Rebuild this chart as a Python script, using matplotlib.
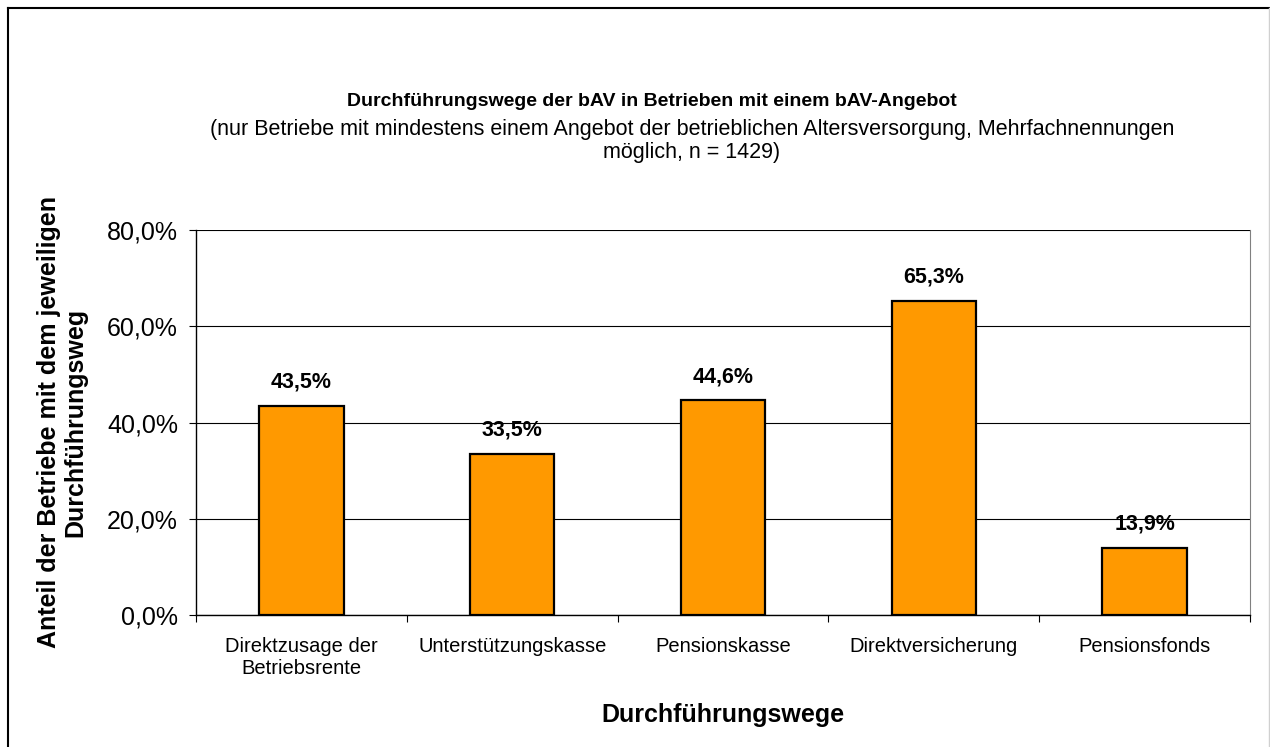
import matplotlib.pyplot as plt
from matplotlib.lines import Line2D

plt.rcParams['font.family'] = ['Liberation Sans', 'DejaVu Sans']

categories = ['Direktzusage der\nBetriebsrente', 'Unterstützungskasse', 'Pensionskasse',
              'Direktversicherung', 'Pensionsfonds']
values = [43.5, 33.5, 44.6, 65.3, 13.9]
yticks = [0, 20, 40, 60, 80]


def fmt(v):
    return ('%.1f%%' % v).replace('.', ',')


fig = plt.figure(figsize=(12.7, 7.47), dpi=100)
ax = fig.add_axes([196 / 1270, 1 - 615 / 747, 1054 / 1270, 385 / 747])

x = range(len(categories))
ax.bar(x, values, width=0.4, color='#FF9900', edgecolor='black', linewidth=1.6, zorder=3)
for i, v in zip(x, values):
    ax.annotate(fmt(v), (i, v), xytext=(0, 17), textcoords='offset points',
                ha='center', va='center', fontsize=15.5, fontweight='bold', zorder=4)

ax.set_xlim(-0.5, len(categories) - 0.5)
ax.set_ylim(0, 80)
ax.set_yticks(yticks)
ax.set_yticklabels([fmt(t) for t in yticks], fontsize=18)
ax.yaxis.grid(True, color='black', linewidth=0.8, zorder=0)
ax.set_xticks([i + 0.5 for i in range(-1, len(categories))])
ax.set_xticklabels([])
ax.set_xticks(list(x), minor=True)
ax.set_xticklabels(categories, minor=True, fontsize=14.5, linespacing=1.2)
ax.tick_params(axis='x', which='minor', length=0, pad=16)
ax.tick_params(axis='x', which='major', length=5, direction='out')
ax.tick_params(axis='y', length=5, direction='out', pad=8)

ax.spines['top'].set_visible(False)
ax.spines['right'].set_color('#808080')
ax.spines['left'].set_linewidth(1.0)
ax.spines['bottom'].set_linewidth(1.0)

ax.set_xlabel('Durchführungswege', fontsize=18, fontweight='bold', labelpad=18)
ax.set_ylabel('Anteil der Betriebe mit dem jeweiligen\nDurchführungsweg', fontsize=18,
              fontweight='bold', labelpad=14, linespacing=1.15)

fig.text(652 / 1270, 1 - 101 / 747, 'Durchführungswege der bAV in Betrieben mit einem bAV-Angebot',
         ha='center', va='center', fontsize=14, fontweight='bold')
fig.text(692 / 1270, 1 - 141 / 747,
         '(nur Betriebe mit mindestens einem Angebot der betrieblichen Altersversorgung, Mehrfachnennungen\nmöglich, n = 1429)',
         ha='center', va='center', fontsize=15.5, linespacing=1.08)

fig.lines.append(Line2D([7.5 / 1270, 7.5 / 1270], [0, 1 - 7.5 / 747], transform=fig.transFigure,
                        color='black', linewidth=1.5))
fig.lines.append(Line2D([7.5 / 1270, 1], [1 - 7.5 / 747, 1 - 7.5 / 747], transform=fig.transFigure,
                        color='black', linewidth=1.5))
fig.lines.append(Line2D([1269 / 1270, 1269 / 1270], [0, 1 - 7.5 / 747], transform=fig.transFigure,
                        color='#d0d0d0', linewidth=1.0))

fig.savefig('out.png', dpi=100)
